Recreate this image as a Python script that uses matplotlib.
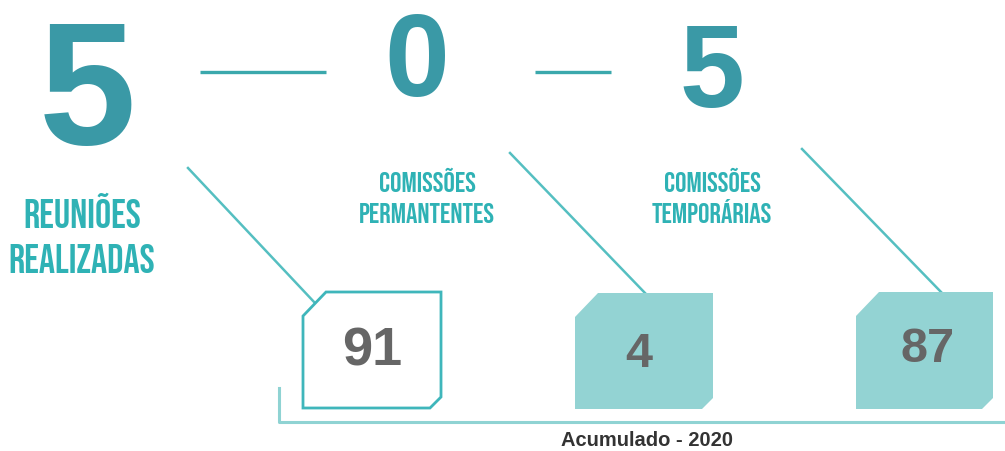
import matplotlib

matplotlib.use("Agg")

from matplotlib import pyplot as plt
from matplotlib.patches import Polygon

# headline counts and their labels
headline_values = [5, 0, 5]
headline_labels = [
    ["REUNIÕES", "REALIZADAS"],
    ["COMISSÕES", "PERMANTENTES"],
    ["COMISSÕES", "TEMPORÁRIAS"],
]
# accumulated totals shown in the boxes
accum_values = [91, 4, 87]
accum_caption = "Acumulado - 2020"

DARK_TEAL = "#3a99a6"
LABEL_TEAL = "#2fb2b5"
DASH_TEAL = "#3ba8ac"
LINE_TEAL = "#55bfc1"
BOX_FILL = "#93d3d3"
BOX_EDGE = "#3fb6bb"
BASE_LINE = "#8fd3d3"
GREY = "#666666"

SANS = ["Arimo", "Liberation Sans", "DejaVu Sans"]
CONDENSED = ["Bebas Neue", "Oswald", "DejaVu Sans"]

fig = plt.figure(figsize=(10.05, 4.51), dpi=100)
ax = fig.add_axes([0, 0, 1, 1])
ax.set_xlim(0, 1005)
ax.set_ylim(451, 0)
ax.axis("off")

# big digits: (x centre, baseline, font size)
digit_layout = [(87, 144, 126), (417, 96, 84), (712, 107, 84)]
for value, (x, y, size) in zip(headline_values, digit_layout):
    ax.text(x, y, str(value), fontsize=size, fontweight="bold", color=DARK_TEAL,
            ha="center", va="baseline", family=SANS)

# dashes between digits
ax.plot([200, 326], [72, 72], color=DASH_TEAL, linewidth=2.4, solid_capstyle="butt")
ax.plot([535, 611], [72, 72], color=DASH_TEAL, linewidth=2.4, solid_capstyle="butt")

# condensed labels: (x centre, baseline line1, baseline line2, font size)
label_layout = [(82, 228, 273, 29), (427, 192, 223, 20.5), (712, 192, 223, 20.5)]
for lines, (x, y1, y2, size) in zip(headline_labels, label_layout):
    for text, y in zip(lines, (y1, y2)):
        ax.text(x, y, text, fontsize=size, color=LABEL_TEAL,
                ha="center", va="baseline", family=CONDENSED)

# diagonal connectors
connectors = [((188, 168), (315, 303)), ((510, 153), (645, 293)), ((802, 149), (942, 293))]
for (x0, y0), (x1, y1) in connectors:
    ax.plot([x0, x1], [y0, y1], color=LINE_TEAL, linewidth=1.8)


def chamfer_box(left, top, right, bottom, face, edge, lw):
    pts = [
        (left, top + 24), (left + 23, top), (right, top),
        (right, bottom - 11), (right - 11, bottom), (left, bottom),
    ]
    ax.add_patch(Polygon(pts, closed=True, facecolor=face, edgecolor=edge, linewidth=lw, zorder=3))


boxes = [(303, 292, 441, 408), (575, 293, 713, 409), (856, 292, 993, 409)]
chamfer_box(*boxes[0], face="white", edge=BOX_EDGE, lw=2.0)
chamfer_box(*boxes[1], face=BOX_FILL, edge="none", lw=0)
chamfer_box(*boxes[2], face=BOX_FILL, edge="none", lw=0)

# numbers in boxes: (x centre, baseline, size)
num_layout = [(372, 366, 39), (639, 367, 35), (928, 362, 35)]
for value, (x, y, size) in zip(accum_values, num_layout):
    ax.text(x, y, str(value), fontsize=size, fontweight="bold", color=GREY,
            ha="center", va="baseline", family=SANS, zorder=4)

# bracket base line
ax.plot([279, 279, 1005], [388, 422, 422], color=BASE_LINE, linewidth=2.2)
ax.text(647, 446, accum_caption, fontsize=14.5, fontweight="bold", color="#333333",
        ha="center", va="baseline", family=SANS)

fig.savefig("out.png", dpi=100)
plt.close(fig)
